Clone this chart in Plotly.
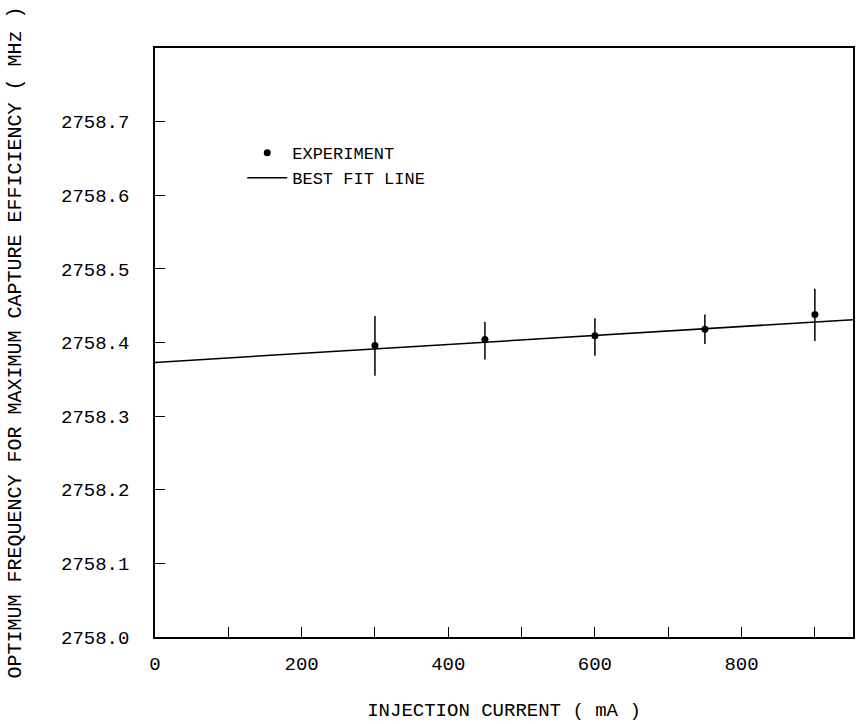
import plotly.graph_objects as go

current_ma = [300, 450, 600, 750, 900]
freq_mhz = [2758.396, 2758.404, 2758.409, 2758.418, 2758.438]
err_plus = [0.040, 0.024, 0.024, 0.020, 0.035]
err_minus = [0.041, 0.027, 0.027, 0.020, 0.036]
fit_x = [0, 952]
fit_y = [2758.373, 2758.431]
y_ticks = [2758.0, 2758.1, 2758.2, 2758.3, 2758.4, 2758.5, 2758.6, 2758.7]
y_ticktext = ["2758.0", "2758.1", "2758.2", "2758.3", "2758.4", "2758.5", "2758.6", "2758.7"]
x_ticks = [0, 200, 400, 600, 800]

font_mono = "Liberation Mono, DejaVu Sans Mono, monospace"

fig = go.Figure()
fig.add_trace(go.Scatter(
    x=current_ma, y=freq_mhz, mode="markers", name="EXPERIMENT",
    marker=dict(color="black", size=7),
    error_y=dict(type="data", symmetric=False, array=err_plus, arrayminus=err_minus,
                 color="black", thickness=1.5, width=0),
))
fig.add_trace(go.Scatter(
    x=fit_x, y=fit_y, mode="lines", name="BEST FIT LINE",
    line=dict(color="black", width=1.5),
))

fig.update_layout(
    width=857, height=724,
    margin=dict(l=155, r=2, t=48, b=87),
    paper_bgcolor="white", plot_bgcolor="white",
    showlegend=True,
    legend=dict(x=0.125, y=0.852, xanchor="left", yanchor="top",
                bgcolor="rgba(0,0,0,0)", font=dict(family=font_mono, size=17, color="black"),
                itemwidth=40, tracegroupgap=0),
    xaxis=dict(range=[0, 952], tickvals=x_ticks,
               ticks="inside", ticklen=0, showgrid=False, zeroline=False,
               showline=True, linecolor="black", linewidth=1.5, mirror=True,
               ticklabelstandoff=8,
               tickfont=dict(family=font_mono, size=19, color="black"),
               minor=dict(dtick=100, tick0=0, ticks="inside", ticklen=10, tickcolor="black", tickwidth=1.2),
               title=dict(text="INJECTION CURRENT ( mA )", standoff=28,
                          font=dict(family=font_mono, size=19, color="black"))),
    yaxis=dict(range=[2758.0, 2758.8], tickvals=y_ticks, ticktext=y_ticktext,
               ticks="inside", ticklen=10, tickcolor="black", tickwidth=1.2,
               showgrid=False, zeroline=False,
               showline=True, linecolor="black", linewidth=1.5, mirror=True,
               ticklabelstandoff=20,
               tickfont=dict(family=font_mono, size=19, color="black"),
               title=dict(text="OPTIMUM FREQUENCY FOR MAXIMUM CAPTURE EFFICIENCY ( MHz )", standoff=34,
                          font=dict(family=font_mono, size=20, color="black"))),
)

fig.write_html("out.html")
